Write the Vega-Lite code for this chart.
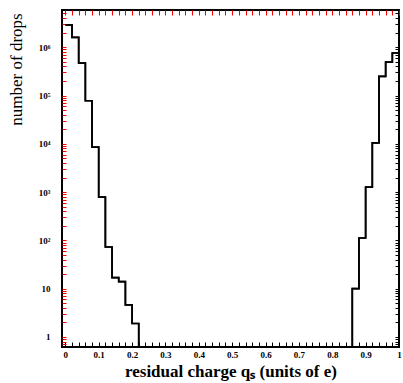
{
  "$schema": "https://vega.github.io/schema/vega-lite/v6.json",
  "width": 337,
  "height": 337,
  "autosize": "none",
  "padding": {"left": 62, "top": 10, "right": 4, "bottom": 36},
  "background": "white",
  "config": {
    "view": {"stroke": "black", "strokeWidth": 2},
    "axis": {"domain": false, "grid": false, "labelFont": "Liberation Serif", "titleFont": "Liberation Serif"}
  },
  "data": {
    "values": [
      {"side": "L", "i": 0, "q": 0, "n": 2900000},
      {"side": "L", "i": 1, "q": 0.02, "n": 1600000},
      {"side": "L", "i": 2, "q": 0.04, "n": 470000},
      {"side": "L", "i": 3, "q": 0.06, "n": 78000},
      {"side": "L", "i": 4, "q": 0.08, "n": 8500},
      {"side": "L", "i": 5, "q": 0.10, "n": 790},
      {"side": "L", "i": 6, "q": 0.12, "n": 73},
      {"side": "L", "i": 7, "q": 0.14, "n": 17},
      {"side": "L", "i": 8, "q": 0.16, "n": 14},
      {"side": "L", "i": 9, "q": 0.18, "n": 4.6},
      {"side": "L", "i": 10, "q": 0.20, "n": 1.9},
      {"side": "L", "i": 11, "q": 0.22, "n": 1.9},
      {"side": "L", "i": 12, "q": 0.22, "n": 0.3},
      {"side": "R", "i": 0, "q": 0.86, "n": 0.3},
      {"side": "R", "i": 1, "q": 0.86, "n": 10},
      {"side": "R", "i": 2, "q": 0.88, "n": 112},
      {"side": "R", "i": 3, "q": 0.90, "n": 1270},
      {"side": "R", "i": 4, "q": 0.92, "n": 10500},
      {"side": "R", "i": 5, "q": 0.94, "n": 250000},
      {"side": "R", "i": 6, "q": 0.96, "n": 490000},
      {"side": "R", "i": 7, "q": 0.98, "n": 760000},
      {"side": "R", "i": 8, "q": 1.0, "n": 760000}
    ]
  },
  "layer": [
    {
      "mark": {"type": "line", "interpolate": "step-after", "clip": true, "color": "black", "strokeWidth": 1.7},
      "encoding": {
        "x": {
          "field": "q", "type": "quantitative",
          "scale": {"domain": [-0.01, 1], "nice": false, "zero": false},
          "axis": {
            "orient": "bottom",
            "values": [0,0.02,0.04,0.06,0.08,0.1,0.12,0.14,0.16,0.18,0.2,0.22,0.24,0.26,0.28,0.3,0.32,0.34,0.36,0.38,0.4,0.42,0.44,0.46,0.48,0.5,0.52,0.54,0.56,0.58,0.6,0.62,0.64,0.66,0.68,0.7,0.72,0.74,0.76,0.78,0.8,0.82,0.84,0.86,0.88,0.9,0.92,0.94,0.96,0.98,1],
            "labelExpr": "abs(datum.value*10 - round(datum.value*10)) < 1e-6 ? (datum.value == 0 ? '0' : (datum.value == 1 ? '1' : format(datum.value, '.1f'))) : ''",
            "tickSize": -5,
            "tickColor": "black",
            "labelPadding": 8,
            "labelFontSize": 9,
            "labelFontWeight": "bold",
            "labelColor": "black",
            "labelFlush": false,
            "labelOverlap": false,
            "title": "residual charge qₛ (units of e)",
            "titleColor": "black",
            "titleFontSize": 17,
            "titleFontWeight": "bold",
            "titlePadding": 4
          }
        },
        "y": {
          "field": "n", "type": "quantitative",
          "scale": {"type": "log", "domain": [0.62, 5900000], "nice": false},
          "axis": {
            "orient": "left",
            "values": [0.7,0.8,0.9,1,2,3,4,5,6,7,8,9,10,20,30,40,50,60,70,80,90,100,200,300,400,500,600,700,800,900,1000,2000,3000,4000,5000,6000,7000,8000,9000,10000,20000,30000,40000,50000,60000,70000,80000,90000,100000,200000,300000,400000,500000,600000,700000,800000,900000,1000000,2000000,3000000,4000000,5000000],
            "labelExpr": "abs(log(datum.value)/LN10 - round(log(datum.value)/LN10)) < 1e-6 ? (datum.value == 1 ? '1' : (datum.value == 10 ? '10' : '10' + ['', '', '²', '³', '⁴', '⁵', '⁶'][round(log(datum.value)/LN10)])) : ''",
            "tickSize": -4,
            "tickColor": "red",
            "labelPadding": 16,
            "labelFontSize": 9,
            "labelFontWeight": "bold",
            "labelColor": "black",
            "labelOverlap": false,
            "labelFlush": false,
            "title": "number of drops",
            "titleColor": "black",
            "titleFontSize": 17,
            "titleFontWeight": "normal",
            "titleAngle": -90,
            "titleX": -41,
            "titleY": 59,
            "titleAlign": "center",
            "titleBaseline": "alphabetic"
          }
        },
        "detail": {"field": "side"},
        "order": {"field": "i"}
      }
    },
    {
      "mark": {"type": "line", "interpolate": "step-after", "clip": true, "color": "black", "strokeWidth": 1.7},
      "encoding": {
        "x": {
          "field": "q", "type": "quantitative",
          "scale": {"domain": [-0.01, 1], "nice": false, "zero": false},
          "axis": {
            "orient": "top",
            "values": [0,0.02,0.04,0.06,0.08,0.1,0.12,0.14,0.16,0.18,0.2,0.22,0.24,0.26,0.28,0.3,0.32,0.34,0.36,0.38,0.4,0.42,0.44,0.46,0.48,0.5,0.52,0.54,0.56,0.58,0.6,0.62,0.64,0.66,0.68,0.7,0.72,0.74,0.76,0.78,0.8,0.82,0.84,0.86,0.88,0.9,0.92,0.94,0.96,0.98,1],
            "labels": false,
            "tickSize": -5,
            "tickColor": "red",
            "title": null
          }
        },
        "y": {
          "field": "n", "type": "quantitative",
          "scale": {"type": "log", "domain": [0.62, 5900000], "nice": false},
          "axis": {
            "orient": "right",
            "values": [0.7,0.8,0.9,1,2,3,4,5,6,7,8,9,10,20,30,40,50,60,70,80,90,100,200,300,400,500,600,700,800,900,1000,2000,3000,4000,5000,6000,7000,8000,9000,10000,20000,30000,40000,50000,60000,70000,80000,90000,100000,200000,300000,400000,500000,600000,700000,800000,900000,1000000,2000000,3000000,4000000,5000000],
            "labels": false,
            "tickSize": -4,
            "tickColor": "black",
            "title": null
          }
        },
        "detail": {"field": "side"},
        "order": {"field": "i"}
      }
    }
  ],
  "resolve": {"axis": {"x": "independent", "y": "independent"}}
}
